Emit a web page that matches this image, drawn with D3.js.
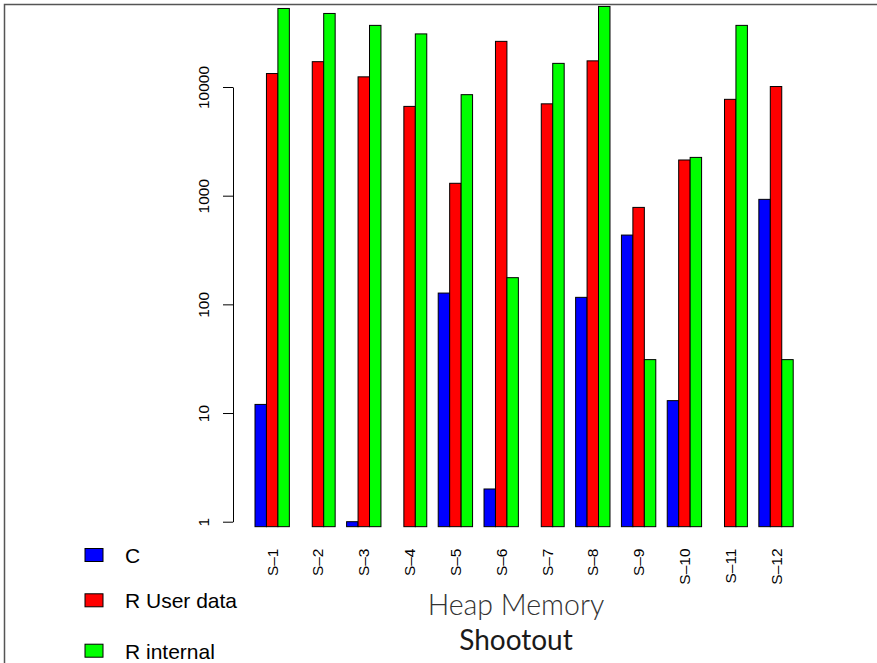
<!DOCTYPE html>
<html>
<head>
<meta charset="utf-8">
<script src="https://cdn.jsdelivr.net/npm/d3@7"></script>
<style>
  body { margin: 0; background: #fff; }
  svg { display: block; }
</style>
</head>
<body>
<script>
//Width and height
var w = 877;
var h = 663;

//Data (null = no bar)
var categories = ["S\u20131", "S\u20132", "S\u20133", "S\u20134", "S\u20135", "S\u20136",
                  "S\u20137", "S\u20138", "S\u20139", "S\u201310", "S\u201311", "S\u201312"];
var cValues        = [12, null, 1, null, 127, 2, null, 116, 434, 13, null, 925];
var userValues     = [13300, 17100, 12400, 6630, 1300, 26300, 7000, 17400, 780, 2130, 7700, 10100];
var internalValues = [52800, 47500, 36900, 30800, 8500, 176, 16500, 55100, 31, 2250, 36900, 31];
var seriesNames  = ["C", "R User data", "R internal"];
var seriesColors = ["#0000ff", "#ff0000", "#00ff00"];
var yTicks = [1, 10, 100, 1000, 10000];

var series = [cValues, userValues, internalValues];

//Create SVG element
var svg = d3.select("body")
      .append("svg")
      .attr("width", w)
      .attr("height", h);

//Frame (top and left edges visible)
svg.append("path")
  .attr("d", "M4.5," + h + "V4.5H" + w)
  .attr("fill", "none")
  .attr("stroke", "#555")
  .attr("stroke-width", 1.5);

//Scales
var yScale = d3.scaleLog()
      .domain([1, 10000])
      .range([521.7, 87]);
var baseline = yScale(0.9);

var xScale = d3.scaleBand()
      .domain(categories)
      .range([255, 793.2])
      .paddingInner(0.25)
      .paddingOuter(0);

var xInner = d3.scaleBand()
      .domain(d3.range(series.length))
      .range([0, xScale.bandwidth()]);

//Bars
var groups = svg.selectAll("g.group")
      .data(categories)
      .enter()
      .append("g")
      .attr("class", "group")
      .attr("transform", function(d) { return "translate(" + xScale(d) + ",0)"; });

groups.selectAll("rect")
  .data(function(d, i) {
    return series.map(function(s, k) { return {k: k, v: s[i]}; })
                 .filter(function(e) { return e.v != null; });
  })
  .enter()
  .append("rect")
  .attr("x", function(d) { return xInner(d.k); })
  .attr("y", function(d) { return yScale(d.v); })
  .attr("width", xInner.bandwidth())
  .attr("height", function(d) { return baseline - yScale(d.v); })
  .attr("fill", function(d) { return seriesColors[d.k]; })
  .attr("stroke", "#000")
  .attr("stroke-width", 1);

//Y axis
var yAxis = d3.axisLeft(yScale)
      .tickValues(yTicks)
      .tickFormat(d3.format("d"))
      .tickSize(10)
      .tickSizeOuter(0);

var yg = svg.append("g")
      .attr("transform", "translate(233,0)")
      .call(yAxis);
yg.select(".domain").attr("stroke", "#000");
yg.selectAll(".tick line").attr("stroke", "#000");
yg.selectAll(".tick text")
  .attr("x", 0)
  .attr("y", 0)
  .attr("dy", 0)
  .attr("text-anchor", "middle")
  .attr("transform", "translate(-23.8,0) rotate(-90)")
  .attr("font-family", "'Liberation Sans', Arial, sans-serif")
  .attr("font-size", 15.5)
  .attr("fill", "#000");

//Category labels
svg.selectAll("text.cat")
  .data(categories)
  .enter()
  .append("text")
  .attr("class", "cat")
  .attr("transform", function(d) {
    return "translate(" + (xScale(d) + xScale.bandwidth() / 2 + 5.5) + ",548.5) rotate(-90)";
  })
  .attr("text-anchor", "end")
  .attr("font-family", "'Liberation Sans', Arial, sans-serif")
  .attr("font-size", 15.5)
  .text(function(d) { return d; });

//Legend
var legendY = [555, 600.3, 650.7];
var legend = svg.selectAll("g.legend")
      .data(seriesNames)
      .enter()
      .append("g")
      .attr("class", "legend")
      .attr("transform", function(d, i) { return "translate(0," + legendY[i] + ")"; });

legend.append("rect")
  .attr("x", 85)
  .attr("y", -6.5)
  .attr("width", 18)
  .attr("height", 13)
  .attr("fill", function(d, i) { return seriesColors[i]; })
  .attr("stroke", "#000");

legend.append("text")
  .attr("x", 125)
  .attr("y", 8)
  .attr("font-family", "'Liberation Sans', Arial, sans-serif")
  .attr("font-size", 21)
  .text(function(d) { return d; });

//Titles
svg.append("text")
  .attr("x", 516)
  .attr("y", 615)
  .attr("text-anchor", "middle")
  .attr("font-family", "Lato, 'Open Sans', sans-serif")
  .attr("font-weight", 300)
  .attr("font-size", 28.5)
  .attr("fill", "#333")
  .text("Heap Memory");

svg.append("text")
  .attr("x", 516)
  .attr("y", 650)
  .attr("text-anchor", "middle")
  .attr("font-family", "Lato, 'Open Sans', sans-serif")
  .attr("font-size", 28)
  .attr("fill", "#1a1a1a")
  .text("Shootout");
</script>
</body>
</html>
